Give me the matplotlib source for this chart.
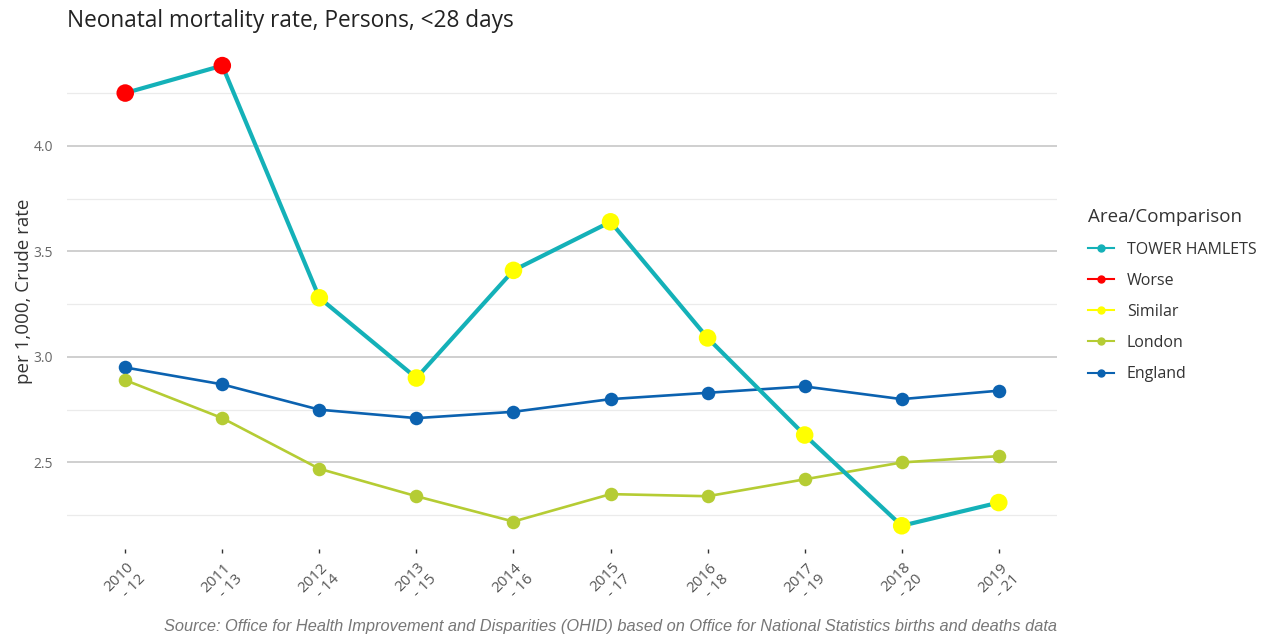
import matplotlib
matplotlib.use("Agg")
import matplotlib.pyplot as plt
from matplotlib.lines import Line2D

plt.rcParams['font.family'] = ['Open Sans', 'DejaVu Sans']

periods = ["2010\n- 12", "2011\n- 13", "2012\n- 14", "2013\n- 15", "2014\n- 16",
           "2015\n- 17", "2016\n- 18", "2017\n- 19", "2018\n- 20", "2019\n- 21"]
tower_hamlets = [4.25, 4.38, 3.28, 2.90, 3.41, 3.64, 3.09, 2.63, 2.20, 2.31]
comparison = ["Worse", "Worse", "Similar", "Similar", "Similar",
              "Similar", "Similar", "Similar", "Similar", "Similar"]
london = [2.89, 2.71, 2.47, 2.34, 2.22, 2.35, 2.34, 2.42, 2.50, 2.53]
england = [2.95, 2.87, 2.75, 2.71, 2.74, 2.80, 2.83, 2.86, 2.80, 2.84]
yticks = [2.5, 3.0, 3.5, 4.0]
minor_yticks = [2.25, 2.75, 3.25, 3.75, 4.25]

c_th = "#14B1B8"
c_worse = "#FF0000"
c_similar = "#FFFF00"
c_london = "#B5CC34"
c_england = "#0B62B0"
cmp_colors = {"Worse": c_worse, "Similar": c_similar}

W, H = 1271, 634
fig = plt.figure(figsize=(W / 100, H / 100), dpi=100)
ax = fig.add_axes([67 / W, 1 - 549 / H, (1057 - 67) / W, (549 - 44.5) / H])

x = list(range(len(periods)))

ax.plot(x, england, color=c_england, lw=1.9, zorder=3)
ax.plot(x, london, color=c_london, lw=1.9, zorder=3)
ax.plot(x, tower_hamlets, color=c_th, lw=3.0, zorder=4)
ax.scatter(x, england, s=95, color=c_england, zorder=5, linewidths=0)
ax.scatter(x, london, s=95, color=c_london, zorder=5, linewidths=0)
ax.scatter(x, tower_hamlets, s=160, color=[cmp_colors[c] for c in comparison],
           zorder=6, linewidths=0)

ax.set_xlim(-0.6, len(periods) - 1 + 0.6)
ax.set_ylim(2.09, 4.48)

ax.set_yticks(yticks)
ax.set_yticklabels([f"{v:.1f}" for v in yticks])
ax.set_yticks(minor_yticks, minor=True)
ax.grid(axis='y', which='major', color="#CFCFCF", lw=1.4)
ax.grid(axis='y', which='minor', color="#EBEBEB", lw=0.9)
ax.set_axisbelow(True)
for s in ax.spines.values():
    s.set_visible(False)

ax.set_xticks(x)
ax.set_xticklabels(periods, rotation=45, ha='center', va='top',
                   multialignment='right', fontsize=11, color="#555555",
                   linespacing=1.15)
ax.tick_params(axis='x', length=3, width=1.0, color="#333333", pad=5)
ax.tick_params(axis='y', which='both', length=0, pad=10, labelsize=10,
               labelcolor="#666666")

ax.set_ylabel("per 1,000, Crude rate", fontsize=13.5, color="#333333")
ax.yaxis.set_label_coords((33 - 67) / 990, (549 - 291) / 504.5)

fig.text(67 / W, 1 - 21 / H, "Neonatal mortality rate, Persons, <28 days",
         fontsize=16.3, color="#222222", va='center', ha='left')

fig.text(1057 / W, 1 - 626 / H,
         "Source: Office for Health Improvement and Disparities (OHID) based on "
         "Office for National Statistics births and deaths data",
         fontsize=11.8, color="#777777", style='italic', ha='right', va='center',
         family='Liberation Sans')

handles = [
    Line2D([], [], color=c_th, marker='o', markersize=5, lw=1.5),
    Line2D([], [], color=c_worse, marker='o', markersize=5, lw=1.5),
    Line2D([], [], color=c_similar, marker='o', markersize=5, lw=1.5),
    Line2D([], [], color=c_london, marker='o', markersize=5, lw=1.5),
    Line2D([], [], color=c_england, marker='o', markersize=5, lw=1.5),
]
labels = ["TOWER HAMLETS", "Worse", "Similar", "London", "England"]
leg = fig.legend(handles, labels, title="Area/Comparison", loc='upper left',
                 bbox_to_anchor=(1074 / W, 1 - 194 / H), frameon=False,
                 fontsize=11.5, title_fontsize=13.5, handlelength=1.6,
                 handletextpad=0.8, labelspacing=0.95, alignment='left',
                 labelcolor="#333333")
leg.get_title().set_color("#333333")

fig.savefig("out.png", dpi=100, facecolor='white')
